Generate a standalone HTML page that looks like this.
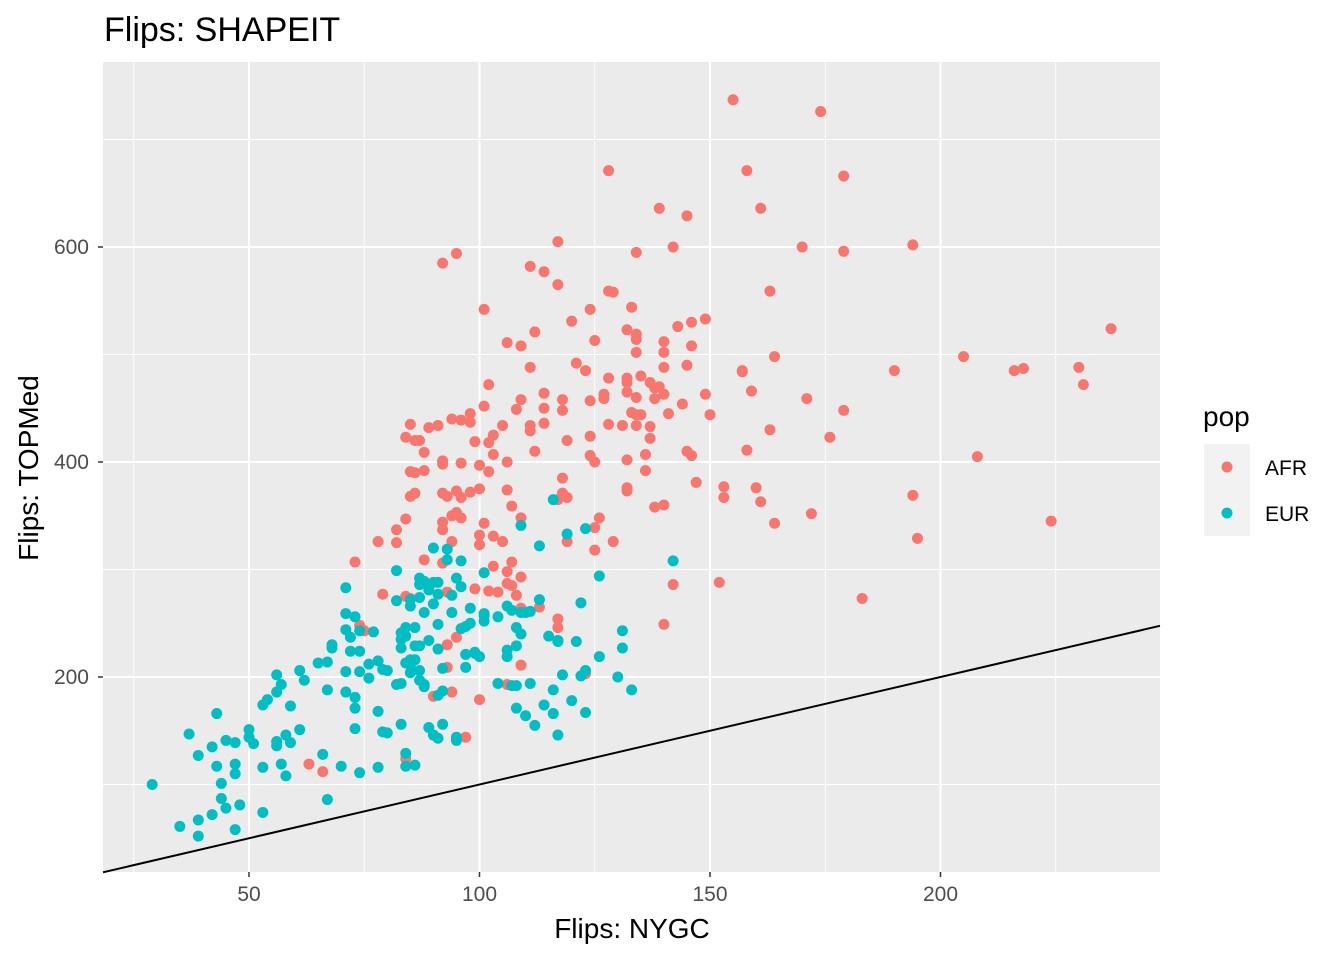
<!DOCTYPE html>
<html><head><meta charset="utf-8"><style>
body{margin:0;background:#fff;}
svg{display:block;font-family:"Liberation Sans",Arial,sans-serif;}
</style></head><body>
<svg id="chart" width="1344" height="960">
<text x="104" y="41" font-size="34" fill="#000">Flips: SHAPEIT</text>
<rect x="103" y="62" width="1057" height="810" fill="#ebebeb"/>
<g id="grid"></g>
<g id="pts"></g>
<g id="axes"></g>
<text x="632" y="938" font-size="28" text-anchor="middle" fill="#000">Flips: NYGC</text>
<text transform="translate(38,468) rotate(-90)" font-size="28" text-anchor="middle" fill="#000">Flips: TOPMed</text>
<g>
<text x="1203" y="426" font-size="28" fill="#000">pop</text>
<rect x="1204" y="444" width="46" height="92" fill="#f2f2f2"/>
<circle cx="1227" cy="467" r="5.5" fill="#F8766D"/>
<circle cx="1227" cy="513" r="5.5" fill="#00BFC4"/>
<text x="1265" y="475" font-size="21" fill="#000">AFR</text>
<text x="1265" y="521" font-size="21" fill="#000">EUR</text>
</g>
</svg>
<script>
const xTicks=[50,100,150,200];
const xMinor=[25,75,125,175,225];
const yTicks=[200,400,600];
const yMinor=[100,300,500,700];
const afrX=[155,174,128,158,179,139,161,145,117,142,134,194,179,170,92,95,111,114,117,163,128,129,101,124,133,120,143,149,146,112,132,134,134,125,106,109,140,134,140,164,205,237,121,123,111,190,230,216,218,231,157,157,159,145,128,132,140,146,135,132,137,149,140,102,114,132,134,138,139,171,179,108,111,111,114,127,124,118,133,135,137,124,128,131,134,134,137,144,150,94,96,98,98,101,105,103,114,127,138,141,163,176,158,145,146,147,136,136,132,125,124,119,112,102,102,100,99,103,118,109,106,91,89,85,86,87,88,88,92,92,92,93,95,96,208,153,160,153,161,140,138,132,132,118,118,119,106,107,109,98,96,100,101,100,103,100,92,92,86,84,85,84,85,86,82,82,88,95,94,94,96,105,107,103,106,107,109,117,119,125,129,125,126,142,140,152,183,224,195,194,172,164,73,78,79,85,92,99,102,104,108,109,113,117,117,117,123,109,95,93,93,94,90,74,75,100,84,66,63,97,106,106,93,84];
const afrY=[737,726,671,671,666,636,636,629,605,600,595,602,596,600,585,594,582,577,565,559,559,558,542,542,544,531,526,533,530,521,523,519,514,513,511,508,512,502,502,498,498,524,492,485,488,485,488,485,487,472,485,484,466,490,478,478,488,508,480,474,474,463,463,472,464,465,460,459,470,459,448,449,434,429,436,459,457,458,446,444,433,424,435,434,444,434,422,454,444,440,439,445,437,452,434,425,450,463,469,445,430,423,411,410,406,381,407,392,402,400,406,420,410,418,391,397,419,407,448,458,400,434,432,435,420,420,409,392,401,398,371,368,373,399,405,377,376,367,363,360,358,376,373,385,371,367,374,359,348,372,367,375,343,332,331,323,344,337,390,347,368,423,391,371,325,337,309,353,350,326,348,326,307,303,298,285,293,365,326,339,326,318,348,286,249,288,273,345,329,369,352,343,307,326,277,273,306,282,280,279,276,264,265,254,246,234,203,211,237,230,209,186,182,248,243,179,124,112,119,144,193,287,279,275];
const eurX=[29,37,39,43,42,43,45,47,44,44,45,47,47,48,42,39,35,39,47,50,51,50,53,56,56,53,54,57,59,58,59,56,56,61,61,62,57,58,53,66,67,67,68,68,65,71,71,71,72,71,71,72,73,73,73,73,74,74,74,74,70,67,77,76,76,78,78,78,79,80,79,80,82,82,82,83,83,84,84,83,83,84,84,85,83,84,85,85,85,86,86,86,87,87,87,88,87,87,87,88,88,89,90,91,90,90,93,93,91,91,91,92,92,91,89,90,91,92,94,94,95,96,96,96,97,97,98,98,97,99,99,100,101,101,101,101,104,104,106,106,106,107,107,108,108,108,109,108,109,109,110,111,111,110,112,113,113,114,115,116,116,117,117,118,120,121,122,123,123,123,126,126,131,131,130,133,142,116,119,122,95,95,89,88,86,85,117];
const eurY=[100,147,127,166,135,117,141,139,101,87,78,119,110,81,72,67,61,52,58,151,138,144,116,186,202,174,179,193,173,146,139,136,140,151,206,197,119,108,74,128,188,214,227,230,213,283,259,244,237,205,186,224,181,171,152,256,224,205,243,111,117,86,242,212,199,168,116,215,207,206,149,148,299,271,193,156,194,129,117,235,241,246,213,266,227,238,216,204,211,216,229,246,274,292,286,289,229,206,197,193,191,234,268,277,288,320,319,309,288,249,226,208,187,183,153,146,143,156,276,260,292,308,284,245,221,209,250,264,247,223,222,219,297,259,252,257,256,194,266,219,225,192,262,192,171,229,240,246,260,341,260,261,194,164,155,272,322,174,238,188,166,234,233,202,178,233,201,167,338,206,294,219,243,227,200,188,308,365,333,269,144,141,281,260,118,272,146];
const X0=18.5,XS=4.61,Y0=892,YS=1.075;
const sx=v=>X0+v*XS, sy=v=>Y0-v*YS;
const L=103,R=1160,T=62,B=872;
const NS="http://www.w3.org/2000/svg";
const grid=document.getElementById('grid'), pts=document.getElementById('pts'), axes=document.getElementById('axes');
function mk(tag,attrs,parent){const e=document.createElementNS(NS,tag);for(const k in attrs)e.setAttribute(k,attrs[k]);parent.appendChild(e);return e;}
xMinor.forEach(v=>{const e=mk('line',{x1:sx(v),x2:sx(v),y1:T,y2:B,stroke:'#fff','stroke-width':0.9},grid);

});
yMinor.forEach(v=>{const e=mk('line',{x1:L,x2:R,y1:sy(v),y2:sy(v),stroke:'#fff','stroke-width':0.9},grid);

});
xTicks.forEach(v=>{const e=mk('line',{x1:sx(v),x2:sx(v),y1:T,y2:B,stroke:'#fff','stroke-width':2},grid);


const t=mk('line',{x1:sx(v),x2:sx(v),y1:B,y2:B+5,stroke:'#333','stroke-width':1.5},axes);


const l=mk('text',{x:sx(v),y:B+29,'font-size':21,'text-anchor':'middle',fill:'#4d4d4d'},axes);l.textContent=v;

});
yTicks.forEach(v=>{const e=mk('line',{x1:L,x2:R,y1:sy(v),y2:sy(v),stroke:'#fff','stroke-width':2},grid);


const t=mk('line',{x1:L-5,x2:L,y1:sy(v),y2:sy(v),stroke:'#333','stroke-width':1.5},axes);


const l=mk('text',{x:L-14,y:sy(v)+7,'font-size':21,'text-anchor':'end',fill:'#4d4d4d'},axes);l.textContent=v;

});
afrX.forEach((v,i)=>{const c=mk('circle',{cx:sx(v),cy:sy(afrY[i]),r:5.5,fill:'#F8766D'},pts);

});
eurX.forEach((v,i)=>{const c=mk('circle',{cx:sx(v),cy:sy(eurY[i]),r:5.5,fill:'#00BFC4'},pts);

});
const xa=(L-X0)/XS, xb=(R-X0)/XS;
const ln=mk('line',{x1:sx(xa),y1:sy(xa),x2:sx(xb),y2:sy(xb),stroke:'#000','stroke-width':2},pts);


</script>
</body></html>
